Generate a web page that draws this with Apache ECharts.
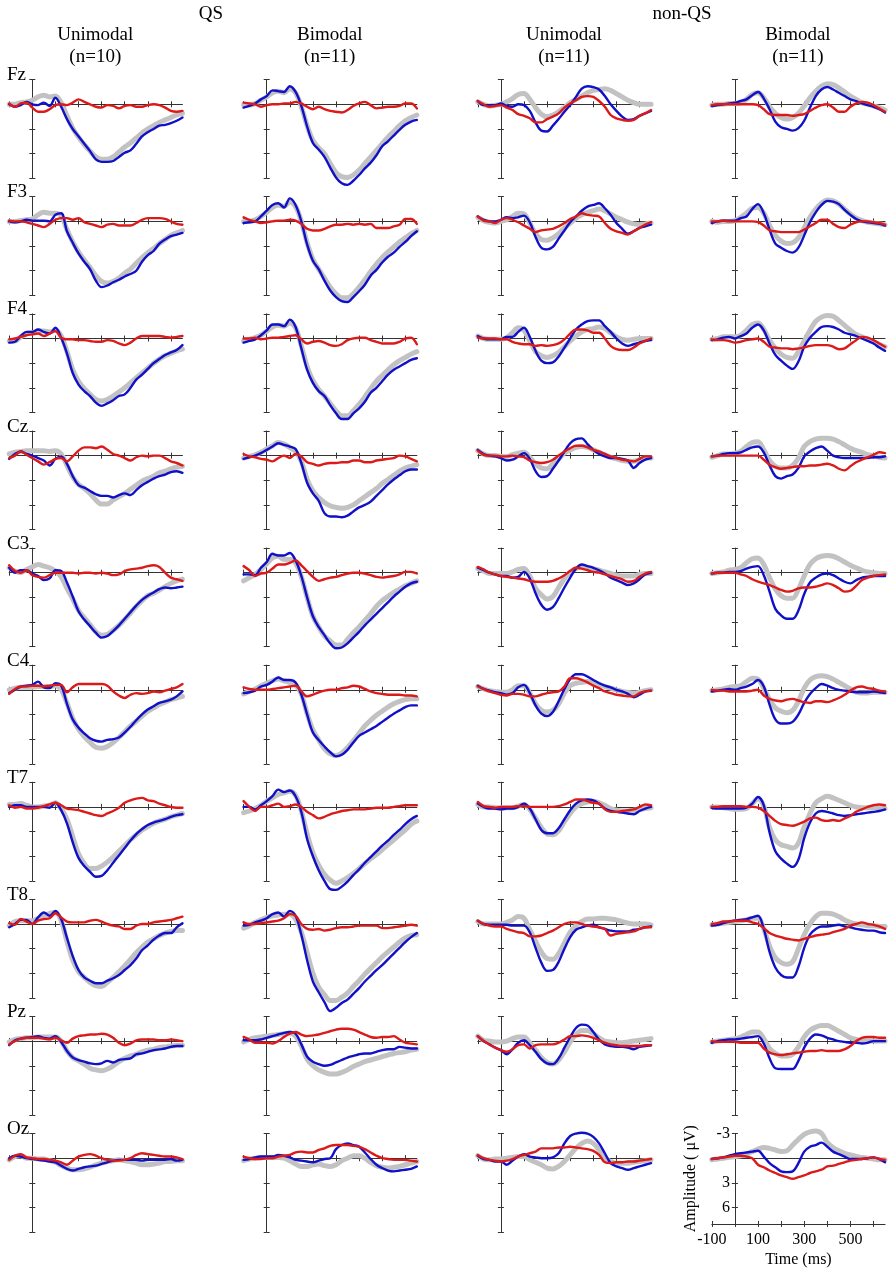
<!DOCTYPE html>
<html>
<head>
<meta charset="utf-8">
<script src="https://cdn.jsdelivr.net/npm/echarts@6/dist/echarts.min.js"></script>
<style>html,body{margin:0;padding:0;background:#fff}#c{width:892px;height:1274px}</style>
</head>
<body>
<div id="c"></div>
<script>
// ---- axes / labels ----
const times = [-100,-75,-50,-25,0,25,50,75,100,125,150,175,200,225,250,275,300,325,350,375,400,425,450,475,500,525,550,575,600,625,650];
const electrodes = ['Fz','F3','F4','Cz','C3','C4','T7','T8','Pz','Oz'];
const groupTitles = ['QS','non-QS'];
const colTitles = ['Unimodal','Bimodal','Unimodal','Bimodal'];
const colNs = ['(n=10)','(n=11)','(n=11)','(n=11)'];
const xTickVals = [-100,0,100,200,300,400,500,600];
const xLabelVals = [-100,100,300,500];
const yTickVals = [-3,0,3,6,9];
const yLabelVals = [-3,3,6];

// ---- data (µV), g = grey, b = blue, r = red; column 1..4 ----
const fz1g = [0.0,0.0,-0.2,-0.3,-0.5,-0.9,-1.1,-0.9,-1.0,-0.2,1.4,2.9,4.0,4.9,5.7,6.4,6.7,6.7,6.4,5.8,5.2,4.7,4.1,3.5,3.0,2.6,2.2,1.9,1.6,1.3,1.1];
const fz1b = [0.0,0.3,0.1,-0.3,0.0,0.1,-0.2,0.2,-0.8,0.3,1.8,3.0,3.9,4.8,5.7,6.7,7.0,7.0,6.9,6.4,5.9,5.6,4.8,3.9,3.4,3.0,2.6,2.5,2.3,2.0,1.6];
const fz1r = [-0.1,0.3,-0.1,-0.2,0.4,0.9,0.9,0.6,0.1,0.0,0.1,-0.2,-0.6,-0.3,0.0,0.3,0.4,0.1,0.2,0.5,0.2,0.1,0.3,0.3,0.1,0.0,0.1,0.4,0.8,0.9,0.8];
const fz2g = [0.1,0.1,-0.1,-0.5,-0.9,-1.4,-1.6,-1.4,-1.9,-1.4,0.3,2.6,4.4,5.3,6.0,7.2,8.3,8.8,8.9,8.6,8.0,7.2,6.4,5.6,4.8,4.0,3.3,2.6,2.0,1.6,1.3];
const fz2b = [0.4,0.2,-0.1,-0.6,-1.0,-1.7,-1.6,-1.5,-2.2,-1.5,0.2,2.7,4.7,5.5,6.4,7.7,8.9,9.6,9.8,9.3,8.6,7.8,7.1,6.2,5.1,4.5,3.8,3.1,2.5,2.1,1.9];
const fz2r = [-0.2,-0.1,0.0,0.3,0.1,0.0,0.0,-0.1,-0.1,-0.3,-0.1,0.3,0.6,0.3,0.6,0.8,0.9,1.0,0.7,0.2,-0.1,-0.3,0.1,0.5,0.4,0.3,0.3,0.2,-0.1,-0.1,0.5];
const fz3g = [-0.3,0.0,0.2,0.1,0.0,-0.3,-0.7,-1.2,-1.3,-0.6,0.4,1.2,1.5,1.3,0.9,0.4,-0.2,-0.6,-1.0,-1.4,-1.7,-1.8,-1.9,-1.7,-1.3,-0.9,-0.5,-0.2,0.0,0.0,0.0];
const fz3b = [-0.4,0.1,0.1,0.1,-0.1,0.2,0.3,0.0,0.1,0.8,2.2,3.2,3.3,2.6,1.8,0.9,0.1,-0.9,-1.9,-2.2,-2.1,-1.8,-1.0,0.0,0.8,1.5,1.9,1.8,1.4,1.1,0.8];
const fz3r = [-0.4,0.0,0.3,0.2,0.1,0.4,0.7,1.2,1.4,1.7,2.2,2.2,1.8,1.5,1.1,0.4,-0.1,-0.5,-0.9,-1.0,-0.9,-0.4,0.3,1.3,1.7,1.9,2.0,1.9,1.4,1.1,0.7];
const fz4g = [0.1,0.0,0.0,-0.1,-0.1,-0.2,-0.6,-1.2,-1.4,-0.8,0.3,1.1,1.6,1.8,1.6,1.1,0.2,-0.8,-1.6,-2.2,-2.5,-2.4,-2.0,-1.5,-1.0,-0.6,-0.2,0.0,0.2,0.4,0.7];
const fz4b = [0.2,0.1,0.0,-0.1,-0.2,-0.4,-0.6,-1.1,-1.5,-0.7,0.6,2.1,2.8,3.0,3.2,2.9,2.0,0.4,-1.0,-1.8,-2.1,-1.8,-1.4,-1.0,-0.6,-0.4,-0.1,0.1,0.3,0.6,1.0];
const fz4r = [0.1,0.0,0.0,0.0,0.0,0.0,0.0,0.0,0.1,0.6,1.2,1.3,1.3,1.3,1.4,1.3,1.2,0.8,0.4,0.1,0.0,0.4,0.9,0.9,0.3,-0.1,-0.3,-0.2,0.1,0.5,0.9];

const f31g = [0.0,0.0,-0.1,-0.2,-0.3,-0.8,-1.1,-1.0,-1.0,-0.7,1.0,2.5,3.7,4.7,5.6,6.6,7.3,7.5,7.3,6.9,6.3,5.8,5.1,4.4,3.8,3.3,2.7,2.2,1.7,1.4,1.1];
const f31b = [0.0,0.1,0.0,-0.2,-0.1,-0.1,-0.1,0.0,-0.8,-1.0,1.2,2.6,3.9,4.9,5.8,7.2,8.0,7.8,7.4,7.1,6.7,6.4,6.0,4.9,4.1,3.6,2.7,2.2,1.8,1.6,1.4];
const f31r = [-0.1,0.0,0.0,0.1,0.3,0.5,0.7,0.3,-0.2,-0.4,-0.4,-0.2,-0.4,0.1,0.3,0.5,0.7,0.4,0.3,0.5,0.5,0.5,0.2,-0.2,-0.4,-0.4,-0.4,-0.3,0.0,0.3,0.4];
const f32g = [0.0,0.0,-0.2,-0.6,-1.1,-1.7,-2.0,-1.8,-2.4,-1.8,0.0,2.6,4.6,5.8,6.9,8.0,8.8,9.3,9.3,8.8,8.0,7.1,6.1,5.2,4.4,3.7,3.1,2.5,2.0,1.5,1.1];
const f32b = [0.2,0.1,0.0,-0.6,-1.3,-2.0,-2.2,-1.7,-2.8,-2.0,0.0,2.8,4.8,5.8,7.2,8.4,9.2,9.7,9.8,9.2,8.5,7.7,6.6,5.9,5.0,4.3,3.8,3.1,2.5,1.8,1.2];
const f32r = [-0.5,-0.2,0.0,0.2,0.1,0.0,-0.1,-0.1,-0.2,-0.1,0.3,0.9,1.1,1.1,0.9,0.6,0.4,0.4,0.3,0.4,0.3,0.4,0.3,0.8,0.8,0.8,0.6,0.4,-0.3,-0.3,0.3];
const f33g = [-0.5,-0.1,0.1,0.2,0.0,-0.2,-0.6,-1.0,-0.9,0.2,1.5,2.2,2.3,2.0,1.5,0.8,0.2,-0.4,-0.8,-1.1,-1.3,-1.5,-1.3,-0.9,-0.5,-0.2,0.1,0.3,0.4,0.3,0.2];
const f33b = [-0.6,-0.2,0.0,0.0,-0.2,-0.5,-0.4,-0.5,-0.7,0.1,1.9,3.2,3.4,3.1,2.1,1.1,0.1,-0.6,-1.3,-1.8,-2.0,-2.2,-1.6,-0.8,0.2,0.9,1.5,1.2,0.8,0.6,0.4];
const f33r = [-0.6,-0.1,0.0,0.2,-0.2,-0.4,-0.2,0.1,0.5,0.9,1.3,1.1,1.0,0.9,0.6,0.2,-0.3,-0.6,-1.0,-0.8,-0.7,-0.6,0.2,0.9,1.2,1.4,1.6,1.2,0.8,0.4,0.1];
const f34g = [0.0,0.1,0.0,0.0,-0.1,-0.5,-1.0,-1.6,-1.7,-1.0,0.5,1.7,2.4,2.7,2.6,2.0,0.8,-0.5,-1.5,-2.2,-2.6,-2.5,-2.1,-1.5,-0.9,-0.4,-0.1,0.1,0.2,0.3,0.4];
const f34b = [0.2,0.0,-0.1,-0.1,-0.1,-0.4,-0.6,-1.5,-2.1,-1.0,1.0,2.7,3.2,3.6,3.8,3.2,1.7,0.1,-1.1,-2.0,-2.5,-2.4,-2.1,-1.4,-0.8,-0.3,0.0,0.1,0.2,0.3,0.5];
const f34r = [0.0,0.0,-0.1,0.0,0.0,0.0,0.0,0.0,0.1,0.5,1.1,1.2,1.3,1.3,1.3,1.3,1.0,0.6,0.2,-0.2,-0.2,0.3,0.7,0.8,0.4,0.1,0.0,0.0,0.1,0.2,0.4];

const f41g = [0.3,0.3,-0.2,-0.6,-0.7,-0.9,-0.9,-0.8,-1.0,-0.3,1.6,3.8,5.2,6.1,6.8,7.4,7.6,7.4,7.0,6.5,6.0,5.4,4.8,4.2,3.6,3.0,2.5,2.1,1.8,1.5,1.3];
const f41b = [0.5,0.4,-0.3,-0.8,-0.8,-1.1,-0.8,-0.6,-1.3,-0.1,1.8,4.2,5.6,6.4,7.0,7.8,8.2,7.9,7.5,7.0,6.8,6.0,5.0,4.4,3.7,3.0,2.5,2.0,1.7,1.4,0.8];
const f41r = [0.1,0.0,-0.2,-0.4,-0.5,-0.6,-0.3,-0.6,-0.9,-0.1,0.1,0.1,0.2,0.2,0.3,0.4,0.4,0.2,0.3,0.6,0.8,0.5,0.0,-0.3,-0.3,-0.3,-0.3,-0.2,-0.1,-0.2,-0.3];
const f42g = [0.3,0.1,-0.1,-0.4,-0.9,-1.4,-1.6,-1.5,-1.9,-1.3,0.9,3.4,5.1,6.2,7.0,7.9,8.8,9.4,9.4,8.8,8.0,7.1,6.1,5.2,4.5,3.8,3.2,2.7,2.3,1.9,1.6];
const f42b = [0.5,0.3,0.1,-0.4,-1.0,-1.7,-1.7,-1.5,-2.3,-1.4,1.2,3.8,5.4,6.4,7.0,8.1,9.1,9.8,9.8,9.1,8.5,7.7,6.6,6.0,5.2,4.4,3.8,3.4,3.0,2.6,2.4];
const f42r = [0.0,0.0,-0.1,0.1,0.0,-0.1,-0.1,-0.2,-0.3,-0.4,0.1,0.6,0.4,0.3,0.5,0.8,0.9,0.7,0.2,0.0,-0.1,-0.1,0.2,0.4,0.6,0.6,0.6,0.4,0.0,-0.1,0.7];
const f43g = [-0.3,0.0,0.1,0.1,0.1,-0.1,-0.7,-1.3,-1.0,0.3,1.6,2.1,2.3,2.1,1.7,1.0,0.3,-0.3,-0.8,-1.1,-1.2,-1.4,-1.2,-0.7,-0.2,0.1,0.2,0.1,0.0,0.0,0.0];
const f43b = [-0.3,0.0,0.1,0.1,0.1,-0.2,-0.2,-0.8,-1.3,-0.2,1.5,2.7,3.0,2.9,2.2,1.1,0.0,-1.1,-1.7,-2.1,-2.2,-2.2,-1.5,-0.8,0.0,0.6,0.9,0.7,0.5,0.3,0.2];
const f43r = [-0.1,0.0,0.0,0.0,0.1,0.1,0.4,0.6,0.7,0.7,0.9,0.8,0.9,0.8,0.6,0.1,-0.6,-1.1,-1.1,-1.0,-0.7,-0.7,0.0,0.9,1.3,1.4,1.4,1.1,0.6,0.3,0.0];
const f44g = [0.1,0.0,-0.2,-0.2,-0.2,-0.4,-1.0,-1.7,-1.9,-1.1,0.2,1.2,1.9,2.3,2.4,1.6,0.3,-1.0,-2.1,-2.6,-2.8,-2.7,-2.2,-1.6,-1.0,-0.5,-0.2,0.1,0.4,0.7,1.0];
const f44b = [0.2,0.1,-0.1,-0.2,0.0,-0.3,-0.6,-1.3,-1.7,-1.0,0.6,2.0,2.7,3.3,3.7,2.8,1.0,-0.1,-0.8,-1.4,-1.5,-1.4,-1.1,-0.7,-0.5,-0.3,0.0,0.3,0.6,1.1,1.5];
const f44r = [0.1,0.2,0.2,0.3,0.5,0.4,0.2,0.1,0.0,0.4,1.0,1.1,1.2,1.2,1.3,1.2,1.1,0.9,0.8,0.8,0.8,1.0,1.3,1.2,0.7,0.2,-0.2,-0.1,0.2,0.6,1.0];

const cz1g = [-0.2,-0.4,-0.5,-0.6,-0.6,-0.6,-0.6,-0.5,-0.6,-0.2,1.2,2.6,3.5,4.0,4.6,5.4,5.9,5.9,5.4,5.0,4.6,4.1,3.6,3.1,2.8,2.5,2.1,1.9,1.6,1.4,1.3];
const cz1b = [0.4,-0.2,-0.5,-0.2,0.0,0.3,0.6,1.2,0.4,0.1,1.0,2.5,3.6,3.9,4.3,4.7,4.9,4.9,5.1,4.8,4.6,4.8,4.2,3.6,3.2,2.8,2.5,2.3,2.0,1.9,2.1];
const cz1r = [0.3,0.0,-0.5,-0.1,0.3,0.7,1.1,0.8,0.4,0.3,0.7,0.1,-0.6,-1.0,-1.0,-0.9,-1.1,-0.7,-0.2,0.0,0.3,0.6,0.2,0.0,0.1,0.0,0.0,0.3,0.7,0.9,1.2];
const cz2g = [0.3,0.1,-0.1,-0.4,-0.8,-1.2,-1.6,-1.4,-1.0,-0.5,0.7,2.9,4.3,5.1,5.7,6.1,6.3,6.4,6.3,6.0,5.5,5.0,4.5,4.0,3.4,2.9,2.4,1.9,1.5,1.3,1.1];
const cz2b = [0.4,0.2,0.0,-0.3,-0.7,-1.1,-1.5,-1.3,-1.1,-0.8,0.9,3.3,4.6,5.5,7.0,7.4,7.4,7.5,7.3,6.8,6.3,6.0,5.6,4.9,4.2,3.5,2.9,2.4,1.9,1.7,1.7];
const cz2r = [-0.2,0.1,0.2,0.4,0.5,0.7,0.3,0.0,0.3,-0.2,0.1,0.8,1.0,1.2,1.0,0.9,0.9,0.8,0.8,0.6,0.6,0.8,0.8,0.6,0.5,0.4,0.3,0.0,0.1,0.4,0.7];
const cz3g = [-0.6,-0.2,0.0,0.0,0.1,0.1,-0.1,-0.3,-0.4,0.2,1.0,1.5,1.6,1.0,0.4,-0.3,-0.7,-1.0,-1.1,-1.0,-0.7,-0.4,-0.1,0.2,0.4,0.6,0.7,0.7,0.5,0.3,0.3];
const cz3b = [-0.7,-0.2,0.0,0.1,0.3,0.6,0.5,0.1,-0.3,0.4,1.9,2.6,2.5,1.6,0.6,-0.5,-1.5,-2.0,-2.1,-1.4,-0.7,-0.2,0.1,0.3,0.3,0.4,0.6,1.5,0.9,0.5,0.3];
const cz3r = [-0.6,-0.1,0.0,0.0,0.1,0.1,0.0,0.1,0.2,0.6,0.8,0.9,0.8,0.5,0.0,-0.5,-0.9,-1.2,-1.2,-1.0,-0.7,-0.5,-0.2,0.1,0.3,0.5,0.6,0.7,0.4,0.1,0.1];
const cz4g = [0.2,0.0,-0.2,-0.2,-0.3,-0.5,-1.1,-1.6,-1.7,-0.7,0.6,1.3,1.5,1.5,1.2,0.3,-1.1,-1.7,-2.0,-2.1,-2.1,-2.0,-1.7,-1.3,-0.9,-0.6,-0.4,-0.1,0.0,0.2,0.3];
const cz4b = [0.1,0.0,-0.2,-0.3,-0.3,-0.4,-0.7,-1.0,-1.1,-0.4,1.2,2.5,2.8,2.5,2.3,1.5,0.1,-0.5,-0.9,-1.1,-0.6,0.0,0.2,0.3,0.3,0.3,0.3,0.3,0.2,0.2,0.1];
const cz4r = [0.1,0.0,0.0,0.0,0.0,0.0,0.0,0.0,0.0,0.5,1.1,1.4,1.6,1.5,1.4,1.3,1.3,1.2,1.2,1.1,1.0,1.2,1.6,1.8,1.3,0.8,0.5,0.2,-0.1,-0.4,-0.3];

const c31g = [-0.6,-0.2,0.0,-0.4,-0.7,-1.0,-0.8,-0.6,-0.2,0.5,1.9,3.2,4.6,5.5,6.3,7.2,7.6,7.5,7.0,6.4,5.7,4.9,4.1,3.4,2.8,2.5,2.1,1.7,1.3,1.0,0.8];
const c31b = [-0.6,0.0,-0.3,-0.3,0.1,0.4,0.9,0.7,-0.3,-0.2,1.2,2.9,4.7,5.7,6.5,7.3,7.9,7.7,7.1,6.4,5.6,4.8,4.0,3.3,2.8,2.4,2.0,1.8,1.9,1.8,1.7];
const c31r = [-0.9,-0.2,0.0,-0.3,0.3,0.5,0.6,0.3,0.0,0.0,0.0,0.0,0.1,0.0,0.0,0.1,0.0,0.1,0.3,0.2,-0.2,-0.4,-0.5,-0.6,-0.8,-0.9,-0.7,0.0,0.6,0.8,1.0];
const c32g = [1.0,0.6,0.2,-0.4,-1.1,-1.8,-2.0,-1.6,-1.6,-1.2,0.5,3.0,5.3,6.6,7.7,8.3,8.8,8.8,8.1,7.3,6.6,5.8,5.0,4.1,3.4,2.9,2.4,2.0,1.6,1.3,1.0];
const c32b = [0.2,0.2,0.3,-0.6,-1.3,-2.3,-2.1,-2.1,-2.4,-1.5,0.4,3.0,5.3,6.6,7.6,8.6,9.2,9.1,8.6,7.9,7.2,6.4,5.7,5.0,4.3,3.6,2.9,2.3,1.7,1.3,1.1];
const c32r = [-0.8,-0.3,0.4,0.1,0.0,-0.5,-1.0,-1.0,-1.2,-1.5,-0.9,-0.2,0.5,1.0,0.8,0.6,0.5,0.3,0.1,0.0,0.0,0.1,0.3,0.5,0.6,0.5,0.4,0.2,-0.1,-0.1,0.1];
const c33g = [-0.5,-0.2,0.1,0.1,0.1,0.1,-0.1,-0.4,-0.5,0.4,1.9,2.7,3.2,2.9,1.8,0.7,-0.1,-0.5,-0.7,-0.6,-0.5,-0.3,-0.1,0.1,0.3,0.4,0.4,0.4,0.2,0.1,0.1];
const c33b = [-0.6,-0.3,0.0,0.2,0.4,0.4,0.6,0.5,-0.1,0.7,2.5,3.9,4.5,4.2,3.1,1.8,0.6,-0.5,-1.0,-0.8,-0.6,-0.3,0.1,0.6,0.9,1.2,1.5,1.3,0.8,0.2,0.0];
const c33r = [-0.7,-0.4,0.0,0.2,0.4,0.5,0.6,0.7,0.8,1.0,1.1,1.1,1.1,1.0,0.7,0.3,-0.2,-0.6,-0.5,-0.3,-0.1,0.0,0.2,0.4,0.6,0.8,1.1,1.0,0.5,0.1,-0.1];
const c34g = [0.1,0.0,-0.1,-0.3,-0.4,-0.6,-1.2,-1.7,-1.8,-1.0,0.6,2.0,2.8,3.1,3.1,2.0,0.4,-1.0,-1.7,-2.0,-2.1,-2.0,-1.7,-1.3,-0.9,-0.6,-0.3,-0.1,0.0,0.1,0.1];
const c34b = [0.1,0.0,0.0,-0.1,-0.1,-0.2,-0.5,-0.7,-0.8,0.3,2.3,4.4,5.2,5.6,5.6,4.6,2.6,1.2,0.6,0.2,0.1,0.3,0.7,1.1,1.3,0.9,0.6,0.5,0.4,0.4,0.4];
const c34r = [0.1,0.0,0.0,0.0,0.0,0.2,0.4,0.8,1.1,1.3,1.5,1.8,2.1,2.3,2.2,1.9,1.8,1.8,1.7,1.5,1.3,1.5,1.9,2.3,2.2,1.6,0.9,0.6,0.4,0.3,0.2];

const c41g = [0.0,-0.2,-0.3,-0.3,-0.3,-0.4,-0.4,-0.4,-0.5,0.0,1.6,3.5,4.8,5.7,6.4,7.0,7.1,6.9,6.4,5.8,5.1,4.4,3.8,3.2,2.6,2.2,1.8,1.5,1.2,1.0,0.8];
const c41b = [0.4,0.0,-0.4,-0.5,-0.6,-1.0,-0.3,-0.2,-0.8,-0.5,1.7,3.6,4.6,5.3,5.9,6.2,6.3,6.1,6.0,5.8,5.2,4.5,3.7,3.0,2.4,2.0,1.6,1.4,1.2,0.8,0.2];
const c41r = [0.5,-0.1,-0.4,-0.4,-0.5,-0.5,-0.4,-0.5,-0.6,-0.6,0.3,-0.3,-0.7,-0.7,-0.7,-0.7,-0.7,-0.5,0.2,0.7,1.0,0.6,0.4,0.5,0.4,0.2,0.3,0.1,-0.1,-0.3,-0.7];
const c42g = [0.5,0.2,-0.1,-0.5,-0.8,-1.1,-1.3,-1.1,-0.9,-0.6,0.5,2.9,4.9,6.1,7.2,7.8,8.0,7.7,7.0,6.2,5.3,4.4,3.7,3.1,2.6,2.1,1.7,1.4,1.2,1.1,1.1];
const c42b = [0.4,0.3,0.1,-0.4,-0.6,-1.0,-1.5,-1.2,-1.2,-0.9,0.6,3.0,5.2,6.1,6.9,7.6,8.1,7.9,7.3,6.4,5.6,5.2,4.8,4.4,3.9,3.4,2.9,2.5,2.1,1.9,1.9];
const c42r = [-0.3,-0.1,0.0,0.0,0.0,-0.1,-0.2,-0.3,-0.4,-0.5,0.2,0.8,0.6,0.3,0.1,0.0,0.0,-0.2,-0.3,-0.5,-0.4,-0.1,0.2,0.4,0.5,0.6,0.6,0.6,0.7,0.7,0.8];
const c43g = [-0.4,-0.1,0.1,0.2,0.3,0.3,0.0,-0.5,-0.5,0.4,1.7,2.5,2.7,2.5,1.7,0.4,-0.5,-0.8,-0.9,-1.0,-0.9,-0.7,-0.4,-0.2,0.0,0.2,0.3,0.4,0.3,0.1,0.0];
const c43b = [-0.5,-0.1,0.1,0.3,0.4,0.6,0.4,-0.3,-0.6,0.4,1.9,2.9,3.2,2.7,1.4,-0.1,-1.3,-1.9,-1.9,-1.6,-1.2,-0.8,-0.5,-0.3,0.0,0.2,0.5,0.9,0.6,0.2,0.1];
const c43r = [-0.4,-0.1,0.2,0.4,0.6,0.7,0.5,0.5,0.6,0.8,0.8,0.6,0.4,0.3,0.2,-0.4,-1.4,-1.4,-1.2,-0.9,-0.5,-0.2,0.2,0.4,0.6,0.7,0.8,0.8,0.4,0.2,0.1];
const c44g = [0.1,0.0,-0.1,-0.3,-0.4,-0.5,-1.0,-1.4,-1.3,-0.2,1.2,2.2,2.6,2.8,2.5,1.4,-0.2,-1.2,-1.6,-1.7,-1.6,-1.3,-0.9,-0.5,-0.1,0.3,0.4,0.4,0.3,0.3,0.3];
const c44b = [0.2,0.1,0.0,-0.1,0.0,-0.2,-0.4,-0.7,-1.2,-0.4,1.8,3.6,4.1,4.1,3.9,3.0,1.6,0.5,-0.2,-0.7,-0.5,-0.2,0.0,0.1,0.2,0.3,0.3,0.3,0.2,0.3,0.4];
const c44r = [0.0,0.1,0.1,0.2,0.2,0.2,0.2,0.1,0.0,0.7,1.1,1.3,1.4,1.2,1.1,1.3,1.5,1.6,1.4,1.4,1.5,1.3,1.0,0.6,0.1,-0.3,-0.4,-0.2,-0.1,0.1,0.2];

const t71g = [-0.3,-0.3,-0.4,-0.2,0.0,0.0,-0.1,-0.2,-0.5,0.2,1.5,3.6,5.7,6.9,7.5,7.5,7.2,6.7,6.1,5.4,4.7,4.0,3.4,2.8,2.4,2.0,1.7,1.5,1.2,1.0,0.8];
const t71b = [0.0,-0.2,-0.2,0.0,0.0,0.0,0.0,0.1,-0.5,0.4,2.0,4.3,6.2,7.2,7.9,8.5,8.4,7.7,6.8,5.9,5.0,4.1,3.3,2.7,2.2,1.9,1.7,1.5,1.2,1.0,0.9];
const t71r = [-0.2,0.1,0.0,0.2,0.2,0.1,-0.1,-0.3,-0.5,-0.2,0.2,0.3,0.4,0.6,0.8,1.0,1.1,0.8,0.5,0.1,-0.5,-0.8,-1.0,-1.1,-0.8,-0.7,-0.4,-0.2,0.0,0.1,0.1];
const t72g = [0.7,0.5,0.2,-0.2,-0.7,-1.1,-1.5,-1.7,-1.9,-1.4,0.5,3.3,5.6,7.1,8.2,8.9,9.3,9.0,8.6,8.1,7.5,6.9,6.3,5.8,5.2,4.6,4.0,3.4,2.8,2.1,1.7];
const t72b = [0.0,0.0,0.3,-0.2,-0.7,-1.3,-2.1,-1.8,-2.0,-1.3,0.6,3.9,6.0,7.7,9.0,10.0,10.1,9.7,9.1,8.3,7.6,6.8,6.1,5.4,4.7,4.1,3.4,2.8,2.1,1.5,1.1];
const t72r = [-0.7,0.0,0.5,0.0,0.0,-0.2,-0.4,0.0,-0.1,-0.3,0.0,0.6,1.0,1.4,1.2,0.9,0.7,0.5,0.4,0.3,0.3,0.3,0.2,0.1,0.1,0.1,0.0,-0.1,-0.2,-0.2,-0.2];
const t73g = [-0.3,0.0,0.0,0.1,0.1,0.1,0.1,-0.1,-0.3,0.3,1.4,2.5,3.3,3.4,2.9,1.8,0.8,0.0,-0.4,-0.6,-0.7,-0.5,-0.2,0.2,0.4,0.5,0.5,0.4,0.3,0.2,0.1];
const t73b = [-0.4,0.0,0.2,0.2,0.3,0.2,0.2,0.0,-0.4,0.2,1.5,2.8,3.2,3.2,2.6,1.5,0.4,-0.4,-0.8,-0.9,-0.8,-0.4,0.2,0.5,0.6,0.7,0.8,0.9,0.5,0.2,0.0];
const t73r = [-0.6,-0.1,0.0,0.1,0.0,0.0,0.0,-0.1,-0.1,0.0,0.0,0.0,0.0,0.0,-0.1,-0.3,-0.6,-0.9,-0.9,-0.7,-0.5,-0.4,0.3,0.6,0.6,0.5,0.4,0.3,0.0,-0.3,-0.2];
const t74g = [0.0,0.0,0.1,0.2,0.3,0.3,0.2,-0.4,-1.0,-0.1,2.5,4.0,4.6,4.8,5.0,4.4,2.4,0.8,-0.5,-1.0,-1.3,-1.1,-0.8,-0.5,-0.2,0.0,0.1,0.1,0.1,0.2,0.2];
const t74b = [0.1,0.2,0.2,0.2,0.2,0.2,0.1,-0.4,-1.2,-0.2,3.1,5.4,6.3,6.9,7.3,6.4,3.8,1.9,0.8,0.5,0.6,0.8,1.0,1.1,1.0,0.9,0.8,0.7,0.6,0.5,0.3];
const t74r = [0.0,0.0,-0.1,-0.1,-0.1,-0.1,0.0,0.0,0.1,0.5,1.1,1.7,2.1,2.2,2.3,2.1,1.8,1.4,1.3,1.6,1.7,1.6,1.7,1.4,1.1,0.6,0.3,0.0,-0.2,-0.3,-0.2];

const t81g = [0.2,-0.3,-0.4,-0.4,-0.4,-0.7,-1.0,-1.3,-1.4,-0.4,2.1,4.4,5.8,6.5,7.1,7.5,7.6,7.1,6.5,5.8,5.1,4.3,3.5,2.8,2.2,1.8,1.4,1.1,0.9,0.8,0.8];
const t81b = [0.4,0.0,-0.5,-0.5,0.0,-0.8,-1.4,-1.0,-1.6,-0.6,1.7,3.9,5.6,6.5,6.9,7.2,7.2,6.9,6.6,6.2,5.6,5.0,4.2,3.2,2.6,1.9,1.4,1.1,1.1,0.4,-0.1];
const t81r = [-0.1,0.1,-0.6,-0.3,0.0,-0.4,-0.6,-0.7,-1.3,-0.8,-0.3,-0.2,-0.2,-0.2,-0.4,-0.5,-0.3,0.0,0.2,0.3,0.6,0.6,0.2,0.0,0.0,-0.2,-0.3,-0.4,-0.5,-0.7,-0.9];
const t82g = [0.5,0.2,-0.2,-0.5,-0.8,-1.0,-1.1,-1.2,-1.2,-0.6,1.0,3.5,6.0,7.7,8.6,9.3,9.3,8.9,8.4,7.6,6.9,6.1,5.4,4.7,4.0,3.4,2.8,2.2,1.7,1.4,1.3];
const t82b = [0.2,0.1,-0.2,-0.4,-0.7,-1.2,-1.4,-0.9,-1.6,-1.0,1.3,4.4,7.0,8.3,9.5,10.6,10.2,9.6,9.2,8.5,7.8,7.0,6.3,5.6,5.0,4.3,3.6,2.9,2.2,1.6,1.1];
const t82r = [-0.2,0.0,0.0,-0.1,-0.2,-0.3,-0.4,-0.7,-1.2,-1.0,0.0,0.6,0.7,0.6,0.8,0.7,0.5,0.4,0.4,0.3,0.2,0.2,0.2,0.2,0.5,0.5,0.4,0.3,0.2,0.1,0.2];
const t83g = [-0.3,0.0,0.0,0.0,0.0,-0.2,-0.5,-0.9,-0.7,0.7,2.1,3.4,4.2,4.3,3.6,2.3,1.0,0.2,-0.3,-0.6,-0.6,-0.7,-0.7,-0.6,-0.5,-0.3,-0.1,0.0,0.0,0.0,0.1];
const t83b = [-0.4,0.0,0.1,0.1,0.1,0.1,0.2,0.2,0.2,1.0,2.9,4.7,5.7,5.6,4.6,3.0,1.6,0.7,0.4,0.2,0.1,0.4,0.6,0.8,0.9,0.9,0.9,0.7,0.6,0.4,0.3];
const t83r = [-0.4,0.0,0.2,0.3,0.3,0.6,0.8,1.0,1.1,1.5,1.5,1.4,1.1,0.8,0.4,0.0,-0.2,-0.2,0.0,0.2,0.3,0.4,0.6,1.4,1.2,1.1,1.0,0.9,0.6,0.4,0.4];
const t84g = [0.1,0.0,-0.1,-0.2,-0.3,-0.4,-0.5,-0.7,-0.7,0.6,2.7,4.1,4.7,4.9,4.6,3.0,1.3,0.0,-0.9,-1.3,-1.3,-1.2,-0.9,-0.5,-0.2,0.0,0.1,0.2,0.2,0.3,0.3];
const t84b = [0.2,0.1,-0.1,-0.3,-0.4,-0.5,-0.6,-0.8,-1.0,0.6,3.4,5.3,6.2,6.5,6.5,5.2,2.9,1.3,0.6,0.3,0.3,0.2,0.1,0.3,0.4,0.6,0.7,0.8,0.8,1.0,1.1];
const t84r = [0.0,-0.1,-0.3,-0.3,-0.4,-0.4,-0.4,-0.2,0.0,0.5,1.1,1.4,1.6,1.8,1.9,2.0,1.8,1.6,1.4,1.3,1.2,1.0,0.8,0.6,0.2,0.0,-0.2,0.0,0.1,0.3,0.6];

const pz1g = [0.1,-0.2,-0.3,-0.4,-0.4,-0.5,-0.5,-0.5,-0.5,0.0,1.2,2.0,2.4,2.8,3.3,3.5,3.6,3.4,3.0,2.5,2.1,1.8,1.6,1.3,1.1,1.0,0.8,0.7,0.6,0.5,0.5];
const pz1b = [0.5,-0.1,-0.3,-0.4,-0.5,-0.6,-0.4,-0.3,-0.6,0.1,1.2,2.0,2.3,2.5,2.7,2.8,2.7,2.4,2.6,2.3,2.2,2.1,1.6,1.5,1.3,1.1,1.0,0.9,0.7,0.6,0.6];
const pz1r = [0.4,0.0,-0.3,-0.4,-0.4,-0.4,-0.3,-0.2,-0.4,-0.1,0.2,-0.3,-0.6,-0.7,-0.8,-0.8,-0.9,-0.8,-0.4,0.2,0.5,0.3,-0.1,-0.2,-0.2,-0.2,-0.1,-0.1,-0.2,-0.1,0.0];
const pz2g = [0.1,-0.2,-0.4,-0.5,-0.6,-0.7,-0.8,-0.9,-1.0,-0.6,0.6,2.2,3.0,3.5,3.8,4.0,4.0,3.8,3.5,3.1,2.8,2.5,2.3,2.1,1.9,1.7,1.5,1.4,1.3,1.1,1.0];
const pz2b = [-0.1,-0.1,-0.1,-0.2,-0.4,-0.6,-0.8,-1.0,-1.1,-0.9,0.4,1.9,2.5,2.8,3.0,2.9,2.6,2.3,2.0,1.8,1.6,1.5,1.5,1.3,1.1,1.0,1.0,0.7,0.8,0.9,0.9];
const pz2r = [-0.5,-0.2,0.2,0.2,0.2,0.3,0.0,-0.5,-0.9,-1.1,-0.8,-0.6,-0.7,-0.8,-1.0,-1.2,-1.4,-1.5,-1.5,-1.4,-1.1,-0.8,-0.5,-0.4,-0.5,-0.5,-0.6,-0.2,0.2,0.3,0.4];
const pz3g = [-0.6,-0.1,0.0,0.1,0.1,0.0,-0.3,-0.5,-0.5,0.2,1.1,2.0,2.6,2.8,2.3,1.3,0.1,-0.8,-1.3,-1.3,-0.9,-0.4,0.0,0.1,0.2,0.2,0.1,0.0,-0.1,-0.2,-0.3];
const pz3b = [-0.6,0.0,0.4,0.8,1.1,1.6,1.0,0.2,-0.1,0.5,1.3,2.2,2.7,2.8,2.1,0.8,-0.5,-1.6,-2.0,-1.9,-1.1,-0.2,0.4,0.6,0.7,0.7,0.8,1.0,0.7,0.6,0.5];
const pz3r = [-0.6,0.0,0.4,0.8,1.1,1.3,1.0,0.5,0.4,0.9,0.5,0.4,0.4,0.4,0.2,-0.2,-0.6,-0.6,-0.7,-0.6,-0.4,-0.1,0.2,0.4,0.5,0.6,0.6,0.6,0.6,0.5,0.5];
const pz4g = [0.1,0.0,-0.1,-0.2,-0.3,-0.5,-0.8,-1.1,-1.1,-0.3,0.9,1.5,1.8,1.8,1.6,0.7,-0.5,-1.3,-1.7,-1.9,-1.9,-1.6,-1.2,-0.8,-0.4,-0.2,0.0,0.0,0.0,0.0,0.0];
const pz4b = [0.2,0.0,-0.1,-0.2,-0.2,-0.3,-0.4,-0.5,-0.6,0.3,2.1,3.3,3.4,3.4,3.4,2.4,0.8,-0.3,-0.8,-0.7,-0.4,-0.2,0.0,0.1,0.2,0.2,0.3,0.2,0.0,0.0,0.0];
const pz4r = [0.0,0.1,0.1,0.1,0.1,0.2,0.2,0.2,0.2,0.9,1.4,1.6,1.7,1.6,1.5,1.4,1.3,1.2,1.2,1.1,1.2,1.2,1.2,1.0,0.6,0.0,-0.4,-0.5,-0.5,-0.4,-0.4];

const oz1g = [0.2,-0.2,-0.3,0.0,0.0,0.1,0.1,0.3,0.5,0.9,1.2,1.4,1.4,1.3,1.1,0.8,0.6,0.4,0.3,0.2,0.3,0.4,0.6,0.8,0.8,0.7,0.6,0.4,0.4,0.3,0.3];
const oz1b = [0.0,-0.3,-0.2,0.0,0.1,0.2,0.3,0.4,0.5,0.9,1.3,1.5,1.3,1.1,1.0,0.9,0.7,0.5,0.3,0.2,0.2,0.2,0.2,0.3,0.2,0.2,0.2,0.2,0.1,0.3,0.2];
const oz1r = [0.2,-0.3,-0.5,-0.1,0.0,0.1,0.1,0.2,0.3,0.5,0.8,0.3,-0.2,-0.4,-0.5,-0.3,0.0,0.2,0.3,0.3,0.2,0.0,-0.4,-0.6,-0.5,-0.4,-0.3,-0.2,-0.2,-0.1,0.1];
const oz2g = [0.3,0.1,0.0,-0.1,-0.1,-0.1,-0.1,0.0,0.3,0.7,1.0,1.0,0.8,0.7,0.9,1.0,0.8,0.3,0.0,-0.3,-0.3,0.0,0.5,0.9,1.1,1.2,1.1,1.0,0.8,0.6,0.4];
const oz2b = [0.2,0.1,-0.1,-0.2,-0.2,-0.2,-0.4,-0.3,-0.1,0.2,0.3,0.4,0.5,0.3,0.1,0.0,-1.1,-1.6,-1.8,-1.6,-1.4,-0.7,0.1,0.8,1.2,1.5,1.6,1.5,1.4,1.3,1.0];
const oz2r = [-0.2,0.0,0.1,0.1,0.0,0.0,-0.2,-0.3,-0.4,-0.7,-0.8,-0.7,-0.7,-1.0,-1.2,-1.5,-1.6,-1.6,-1.6,-1.5,-1.4,-1.1,-0.7,-0.3,0.0,0.1,0.2,0.2,0.2,0.3,0.4];
const oz3g = [-0.3,0.1,0.2,0.1,0.1,0.0,-0.1,-0.2,-0.2,0.2,0.5,0.8,1.2,1.3,1.0,0.4,-0.4,-1.2,-1.8,-2.1,-1.8,-1.0,0.0,0.4,0.6,0.6,0.6,0.5,0.4,0.3,0.2];
const oz3b = [-0.3,0.1,0.2,0.4,0.4,0.8,0.3,-0.2,-0.5,-0.2,-0.1,0.0,0.0,-0.1,-0.6,-1.8,-2.7,-3.0,-3.1,-3.0,-2.6,-1.8,-0.6,0.6,1.0,1.2,1.4,1.2,1.0,0.8,0.6];
const oz3r = [-0.4,0.0,0.2,0.3,0.4,0.3,0.1,-0.2,-0.4,-0.6,-0.8,-1.2,-1.2,-1.2,-1.3,-1.3,-1.4,-1.3,-1.2,-1.1,-0.9,-0.4,0.5,0.6,0.5,0.5,0.4,0.4,0.3,0.2,0.1];
const oz4g = [0.2,0.1,0.0,-0.1,-0.2,-0.3,-0.5,-0.8,-1.1,-1.3,-1.2,-1.0,-0.8,-0.9,-1.6,-2.3,-2.9,-3.2,-3.3,-3.0,-1.9,-1.3,-0.9,-0.6,-0.4,-0.2,-0.1,0.0,0.1,0.2,0.2];
const oz4b = [0.1,0.0,-0.1,-0.3,-0.5,-0.6,-0.7,-0.8,-0.9,-0.2,0.6,1.1,1.6,1.7,1.6,0.6,-0.8,-1.4,-1.6,-1.9,-1.4,-0.8,-0.5,-0.2,0.1,0.1,0.1,0.0,-0.1,0.1,0.5];
const oz4r = [0.1,0.0,-0.1,-0.2,-0.3,-0.3,-0.2,0.0,0.8,1.1,1.5,1.8,2.1,2.3,2.5,2.3,2.1,1.8,1.6,1.4,1.0,0.9,0.7,0.5,0.3,0.2,0.1,0.0,-0.1,0.1,0.2];

// table the library needs (rows = electrodes, cols = conditions, [grey, blue, red])
const panelData = [
  [[fz1g,fz1b,fz1r],[fz2g,fz2b,fz2r],[fz3g,fz3b,fz3r],[fz4g,fz4b,fz4r]],
  [[f31g,f31b,f31r],[f32g,f32b,f32r],[f33g,f33b,f33r],[f34g,f34b,f34r]],
  [[f41g,f41b,f41r],[f42g,f42b,f42r],[f43g,f43b,f43r],[f44g,f44b,f44r]],
  [[cz1g,cz1b,cz1r],[cz2g,cz2b,cz2r],[cz3g,cz3b,cz3r],[cz4g,cz4b,cz4r]],
  [[c31g,c31b,c31r],[c32g,c32b,c32r],[c33g,c33b,c33r],[c34g,c34b,c34r]],
  [[c41g,c41b,c41r],[c42g,c42b,c42r],[c43g,c43b,c43r],[c44g,c44b,c44r]],
  [[t71g,t71b,t71r],[t72g,t72b,t72r],[t73g,t73b,t73r],[t74g,t74b,t74r]],
  [[t81g,t81b,t81r],[t82g,t82b,t82r],[t83g,t83b,t83r],[t84g,t84b,t84r]],
  [[pz1g,pz1b,pz1r],[pz2g,pz2b,pz2r],[pz3g,pz3b,pz3r],[pz4g,pz4b,pz4r]],
  [[oz1g,oz1b,oz1r],[oz2g,oz2b,oz2r],[oz3g,oz3b,oz3r],[oz4g,oz4b,oz4r]]
];

// ---- layout & style ----
const FONT = '"Liberation Serif","Times New Roman",serif';
const colAxisX = [32.3, 266.7, 500.9, 734.9];
const BASE0 = 104.3, ROW = 117.1, PXMS = 0.231, PXUV = 8.22;
const AXC = '#333';
const lineStyles = [
  {color:'#c2c2c2', width:5},
  {color:'#1010c8', width:2.4},
  {color:'#dc1a1a', width:2.4}
];

const chart = echarts.init(document.getElementById('c'), null, {renderer:'canvas', width:892, height:1274});
const grids = [], xAxes = [], yAxes = [], series = [], graphics = [];

panelData.forEach((row, r) => row.forEach((cell, c) => {
  const last = (r === 9 && c === 3);
  const gi = grids.length;
  const base = BASE0 + r * ROW;
  const yMax = last ? 8 : 9;
  grids.push({left: colAxisX[c] - 100 * PXMS, top: base - 3 * PXUV, width: 750 * PXMS,
              height: (yMax + 3) * PXUV, containLabel: false, outerBoundsMode: 'none'});
  const xi = xAxes.length, yi = yAxes.length;
  const ls = {color: AXC, width: 1};
  const xBase = {type:'value', gridIndex: gi, min:-100, max:650, interval:100,
                 splitLine:{show:false}, axisPointer:{show:false}, silent:true};
  xAxes.push(Object.assign({}, xBase, {
    position:'bottom',
    axisLine:{show:true, onZero:!last, lineStyle:ls},
    axisTick:{show:true, inside:false, length:3, lineStyle:ls, customValues:xTickVals},
    axisLabel: last ? {show:true, margin:8, fontFamily:FONT, fontSize:16, color:'#000',
                       formatter: v => xLabelVals.includes(v) ? String(v) : ''} : {show:false},
    name: last ? 'Time (ms)' : '', nameLocation:'middle', nameGap:28,
    nameTextStyle:{fontFamily:FONT, fontSize:16, color:'#000'}
  }));
  xAxes.push(Object.assign({}, xBase, {
    position:'bottom',
    axisLine:{show:false, onZero:!last},
    axisTick:{show:true, inside:true, length:3, lineStyle:ls, customValues:xTickVals},
    axisLabel:{show:false}
  }));
  if (last) {
    xAxes.push(Object.assign({}, xBase, {
      position:'top',
      axisLine:{show:true, onZero:true, lineStyle:ls},
      axisTick:{show:false}, axisLabel:{show:false}
    }));
  }
  const yBase = {type:'value', gridIndex: gi, min:-3, max:yMax, interval:3, inverse:true,
                 splitLine:{show:false}, axisPointer:{show:false}, silent:true};
  // last panel: y axis placed at x=0 by offset (so its labels follow it)
  const yOff = last ? -100 * PXMS : 0;
  yAxes.push(Object.assign({}, yBase, {
    position:'left', offset: yOff,
    axisLine:{show:true, onZero:!last, lineStyle:ls},
    axisTick:{show:true, inside:false, length:3, lineStyle:ls, customValues: last ? [-3,0,3,6] : yTickVals},
    axisLabel: last ? {show:true, margin:5, fontFamily:FONT, fontSize:16, color:'#000',
                       formatter: v => yLabelVals.includes(v) ? String(v) : ''} : {show:false},
    name: last ? 'Amplitude ( \u03bcV)' : '', nameLocation:'middle', nameGap:36, nameRotate:90,
    nameTextStyle:{fontFamily:FONT, fontSize:16, color:'#000'}
  }));
  yAxes.push(Object.assign({}, yBase, {
    position:'left', offset: yOff,
    axisLine:{show:false, onZero:!last},
    axisTick:{show:true, inside:true, length:3, lineStyle:ls, customValues: last ? [-3,0,3,6] : yTickVals},
    axisLabel:{show:false}
  }));
  cell.forEach((arr, si) => {
    series.push({
      type:'line', xAxisIndex: xi, yAxisIndex: yi,
      data: times.map((t, i) => [t, arr[i]]),
      showSymbol:false, symbol:'none', smooth:0.35, clip:false, silent:true, animation:false,
      lineStyle: Object.assign({cap:'round', join:'round'}, lineStyles[si]),
      z: 2 + si
    });
  });
  if (c === 0) {
    graphics.push({type:'text', x:7, y: base - 29,
      style:{text: electrodes[r], font:'19px ' + FONT, fill:'#000',
             textAlign:'left', textVerticalAlign:'middle', align:'left', verticalAlign:'middle'}});
  }
}));

function addText(txt, x, y) {
  graphics.push({type:'text', x:x, y:y,
    style:{text:txt, font:'19px ' + FONT, fill:'#000',
           textAlign:'center', textVerticalAlign:'middle', align:'center', verticalAlign:'middle'}});
}
addText(groupTitles[0], 211, 14);
addText(groupTitles[1], 682, 14);
colTitles.forEach((t, c) => {
  addText(t, colAxisX[c] + 63, 35);
  addText(colNs[c], colAxisX[c] + 63, 57);
});

chart.setOption({
  animation:false,
  backgroundColor:'#fff',
  grid: grids,
  xAxis: xAxes,
  yAxis: yAxes,
  series: series,
  graphic: graphics
});
</script>
</body>
</html>
